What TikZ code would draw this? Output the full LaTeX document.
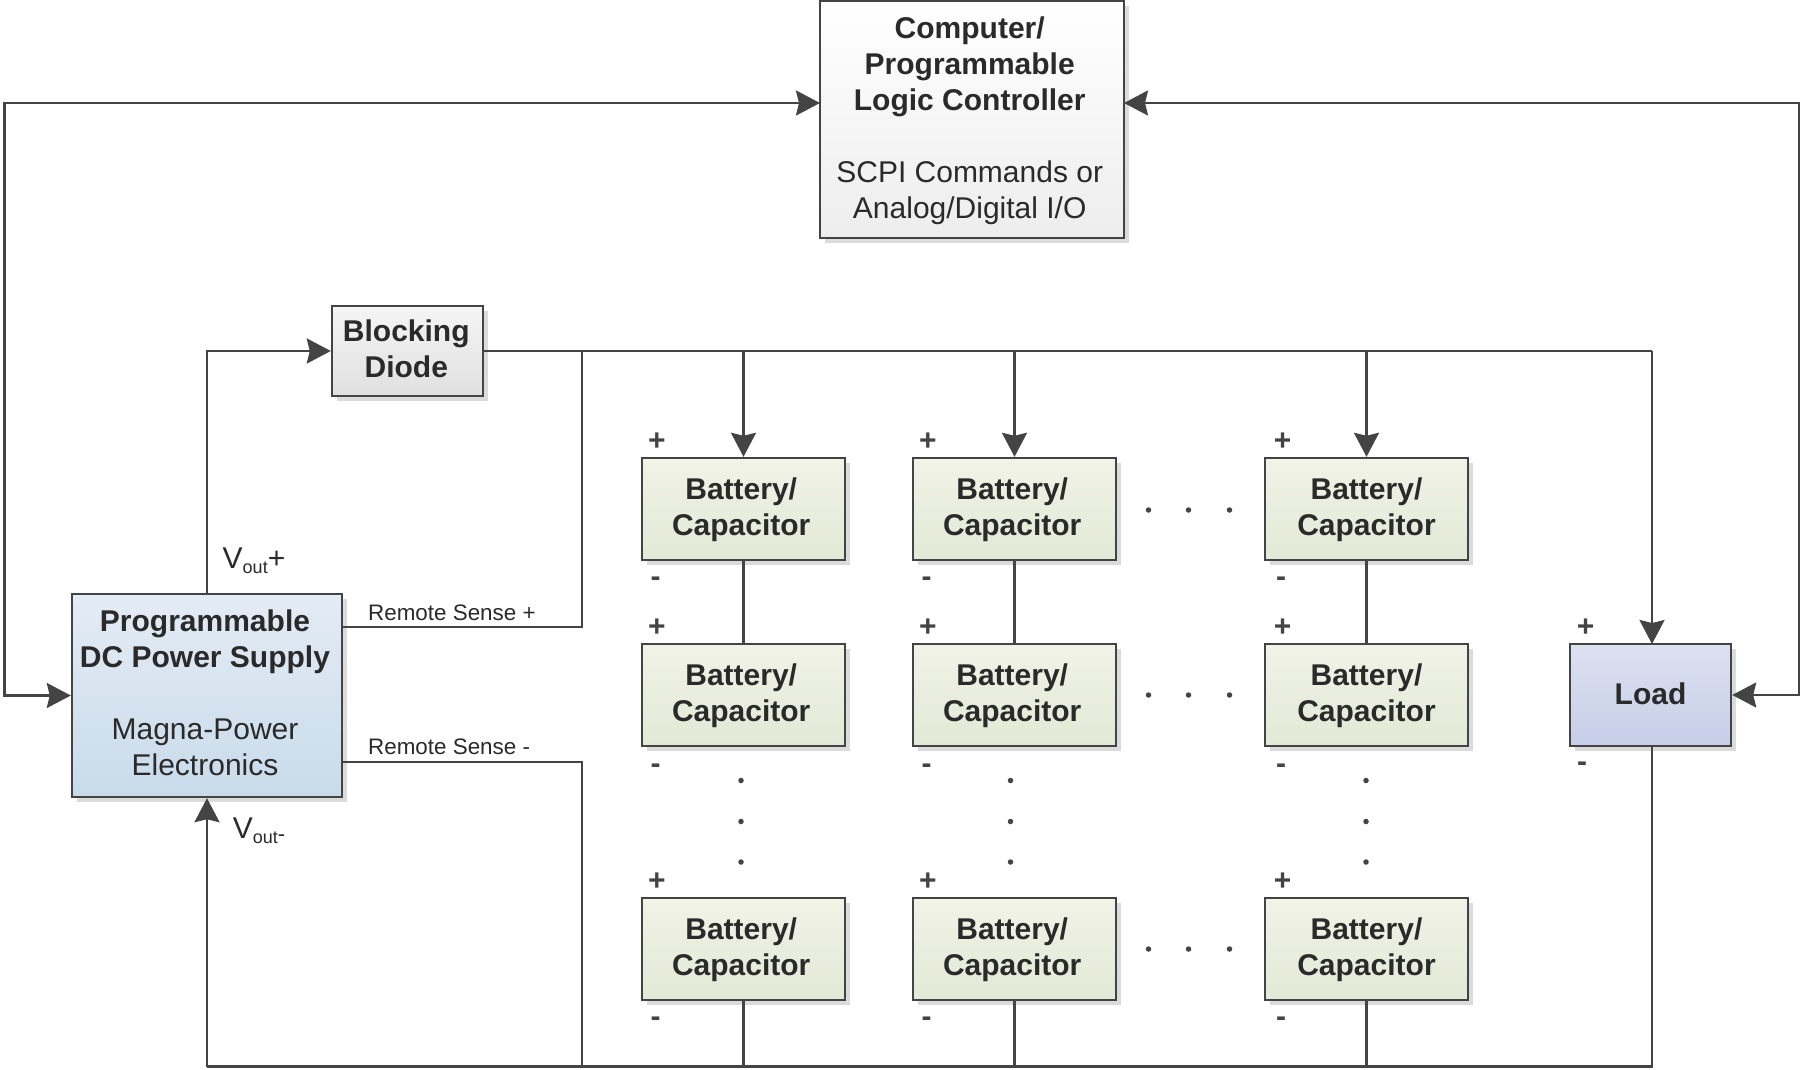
\documentclass[tikz,border=0pt]{standalone}
\usepackage{fontspec}
\setmainfont{Liberation Sans}
\usetikzlibrary{arrows.meta,shadows,calc}
\definecolor{linec}{HTML}{444444}
\definecolor{txtc}{HTML}{2A2A2A}
\tikzset{
  boxbase/.style={draw=linec,line width=2.4pt,rectangle,inner sep=0pt,
    drop shadow={shadow xshift=5pt,shadow yshift=-5pt,fill=black!40,opacity=.35}},
  boxtxt/.style={inner sep=0pt,align=center,text=txtc,font=\fontsize{30}{36}\selectfont},
  plcbox/.style={boxbase,minimum width=304pt,minimum height=237pt,top color=white,bottom color=black!7},
  psubox/.style={boxbase,minimum width=270pt,minimum height=203pt,top color={rgb,255:red,228;green,236;blue,245},bottom color={rgb,255:red,200;green,219;blue,234}},
  diodebox/.style={boxbase,minimum width=151pt,minimum height=90pt,top color=black!4,bottom color=black!12},
  batbox/.style={boxbase,minimum width=203pt,minimum height=102pt,top color={rgb,255:red,240;green,243;blue,230},bottom color={rgb,255:red,228;green,232;blue,214}},
  loadbox/.style={boxbase,minimum width=161pt,minimum height=102pt,top color={rgb,255:red,221;green,226;blue,241},bottom color={rgb,255:red,198;green,205;blue,231}},
  wire/.style={draw=linec,line width=2.4pt},
  arrowend/.style={wire,-{Stealth[length=24pt,width=25pt,inset=3pt]}},
  arrowboth/.style={wire,{Stealth[length=24pt,width=25pt,inset=3pt]}-{Stealth[length=24pt,width=25pt,inset=3pt]}},
  polarity/.style={text=linec,inner sep=0pt,font=\fontsize{30}{30}\bfseries\selectfont},
  sensetxt/.style={text=txtc,inner sep=0pt,anchor=west,font=\fontsize{22.4}{24}\selectfont},
  volttxt/.style={text=txtc,inner sep=0pt,font=\fontsize{30}{30}\selectfont},
  dotmark/.style={circle,fill=linec,inner sep=0pt,minimum size=5.5pt}
}
\newcommand{\batlabel}{\textbf{Battery/}\\\textbf{Capacitor}}
\begin{document}
\begin{tikzpicture}[x=1pt,y=-1pt]
\useasboundingbox (0,0) rectangle (1800,1069);
\fill[white] (0,0) rectangle (1800,1069);

\node[plcbox] (plc) at (972,119.5) {};
\node[psubox] (psu) at (207,695.5) {};
\node[diodebox] (diode) at (407.5,351) {};
\foreach \c/\cx in {a/743.5,b/1014.5,c/1366.5}{
  \node[batbox] (\c1) at (\cx,509) {};
  \node[batbox] (\c2) at (\cx,695) {};
  \node[batbox] (\c3) at (\cx,949) {};
}
\node[loadbox] (load) at (1650.5,695) {};

% named free points of the wiring
\coordinate (plcL) at (820,103);
\coordinate (plcR) at (1124,103);
\coordinate (farL) at (4.5,103);
\coordinate (farR) at (1799,103);
\coordinate (busTop) at (1652,351);
\coordinate (busBot) at (1652,1066.5);
\coordinate (senseX) at (582,351);
\coordinate (senseP) at (342,627);
\coordinate (senseM) at (342,762);
\coordinate (botY) at (582,1066.5);
\coordinate (loadT) at (1652,644);
\coordinate (loadB) at (1652,746);

\draw[arrowboth] (plcL) -- (farL) |- (psu.west);
\draw[arrowboth] (plcR) -- (farR) |- (load.east);
\draw[arrowend] (psu.north) |- (diode.west);
\draw[wire] (diode.east) -- (busTop);
\draw[arrowend] (busTop) -- (loadT);
\draw[wire] (loadB) -- (busBot) -- (psu.south |- busBot);
\draw[arrowend] (psu.south |- busBot) -- (psu.south);
\draw[wire] (senseP) -| (senseX);
\draw[wire] (senseM) -| (botY);
\foreach \c in {a,b,c}{
  \draw[arrowend] (\c1.north |- busTop) -- (\c1.north);
  \draw[wire] (\c1.south) -- (\c2.north);
  \draw[wire] (\c3.south) -- (\c3.south |- busBot);
}

% box texts
\node[boxtxt] (plct) at ($(plc)+(-2.3,1.6)$) {\textbf{Computer/}\\\textbf{Programmable}\\\textbf{Logic Controller}\\[36pt]SCPI Commands or\\Analog/Digital I/O};
\node[boxtxt] (psut) at ($(psu)+(-2,-2.8)$) {\textbf{Programmable}\\\textbf{DC Power Supply}\\[36pt]Magna-Power\\Electronics};
\node[boxtxt] (diodet) at ($(diode)+(-1.2,-2)$) {\textbf{Blocking}\\\textbf{Diode}};
\foreach \c/\dx in {a/-2.3,b/-2.3,c/0}{
  \foreach \r in {1,2,3}{
    \node[boxtxt] (\c\r t) at ($(\c\r)+(\dx,1.2)$) {\batlabel};
  }
}
\node[boxtxt] (loadt) at ($(load)+(0,-1.2)$) {\textbf{Load}};

% polarity marks
\foreach \n/\x in {a/657,b/928,c/1282.5}{
  \node[polarity] (p\n1) at (\x,441.5) {+};
  \node[polarity] (m\n1) at (\x-1.5,582) {-};
  \node[polarity] (p\n2) at (\x,628) {+};
  \node[polarity] (m\n2) at (\x-1.5,768.5) {-};
  \node[polarity] (p\n3) at (\x,882) {+};
  \node[polarity] (m\n3) at (\x-1.5,1021.5) {-};
}
\node[polarity] (pl) at (1585.5,628) {+};
\node[polarity] (ml) at (1582,767) {-};

% ellipsis dots
\foreach \r/\y in {1/510,2/695,3/949}{
  \node[dotmark] (hx\r) at (1148.5,\y) {};
  \node[dotmark] (hy\r) at (1188.5,\y) {};
  \node[dotmark] (hz\r) at (1229.5,\y) {};
}
\foreach \c/\x in {a/741,b/1010.5,c/1366}{
  \node[dotmark] (v\c1) at (\x,780.5) {};
  \node[dotmark] (v\c2) at (\x,821.5) {};
  \node[dotmark] (v\c3) at (\x,862) {};
}

% labels
\node[sensetxt] (rsp) at (368,613) {Remote Sense +};
\node[sensetxt] (rsm) at (368,747) {Remote Sense -};
\node[volttxt] (vp) at (254,561) {V\raisebox{-5pt}{\fontsize{18}{18}\selectfont out}+};
\node[volttxt] (vm) at (259,831) {V\raisebox{-5pt}{\fontsize{18}{18}\selectfont out}\raisebox{-3pt}{\fontsize{22}{22}\selectfont -}};
\end{tikzpicture}
\end{document}
